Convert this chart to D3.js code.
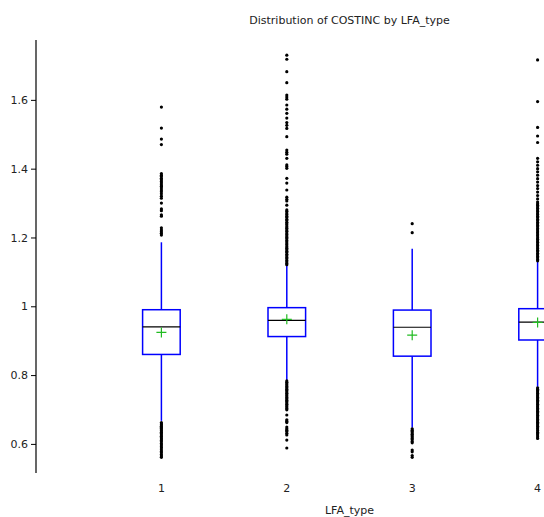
<!DOCTYPE html>
<html>
<head>
<meta charset="utf-8">
<script src="https://cdn.jsdelivr.net/npm/d3@7"></script>
<style>
  body { margin: 0; background: #fff; }
  text { font-family: "DejaVu Sans", Verdana, sans-serif; fill: #222; }
</style>
</head>
<body>
<svg id="chart" width="544" height="517"></svg>
<script>
const width = 544
const height = 517

// box statistics
const categories = [1, 2, 3, 4]
const q1 = [0.860, 0.912, 0.855, 0.902]
const median = [0.940, 0.959, 0.939, 0.954]
const q3 = [0.990, 0.996, 0.989, 0.993]
const mean = [0.924, 0.962, 0.916, 0.953]
const whiskerLow = [0.667, 0.786, 0.647, 0.766]
const whiskerHigh = [1.186, 1.118, 1.167, 1.129]

// outliers per category
const outliers1 = [1.579, 1.518, 1.486, 1.470, 1.386, 1.381, 1.377, 1.372, 1.368, 1.363, 1.358, 1.353,
  1.349, 1.344, 1.338, 1.333, 1.327, 1.320, 1.314, 1.300, 1.283, 1.278, 1.266, 1.262, 1.228, 1.222,
  1.217, 1.212, 1.207,
  0.662, 0.658, 0.655, 0.651, 0.648, 0.645, 0.641, 0.638, 0.634, 0.630, 0.626, 0.622, 0.618, 0.614,
  0.610, 0.606, 0.601, 0.597, 0.592, 0.588, 0.583, 0.578, 0.574, 0.569, 0.565, 0.561]
const outliers2 = [1.730, 1.718, 1.682, 1.650, 1.614, 1.608, 1.602, 1.585, 1.573, 1.561, 1.547, 1.534,
  1.526, 1.517, 1.493, 1.454, 1.448, 1.442, 1.430, 1.411, 1.406, 1.401, 1.372, 1.358, 1.338, 1.317,
  1.311, 1.306, 1.294, 1.280, 1.276, 1.271, 1.267, 1.262, 1.258, 1.253, 1.249, 1.244, 1.240, 1.236,
  1.231, 1.227, 1.222, 1.218, 1.213, 1.209, 1.204, 1.200, 1.196, 1.191, 1.187, 1.182, 1.178, 1.173,
  1.169, 1.164, 1.160, 1.156, 1.151, 1.147, 1.142, 1.138, 1.133, 1.129, 1.124, 1.121,
  0.783, 0.779, 0.775, 0.771, 0.767, 0.763, 0.759, 0.755, 0.751, 0.747, 0.743, 0.739, 0.735, 0.731,
  0.727, 0.723, 0.719, 0.715, 0.711, 0.707, 0.703, 0.699, 0.684, 0.670, 0.666, 0.662, 0.649, 0.644,
  0.640, 0.636, 0.631, 0.626, 0.611, 0.588]
const outliers3 = [1.240, 1.214,
  0.644, 0.640, 0.636, 0.632, 0.628, 0.624, 0.620, 0.616, 0.612, 0.607, 0.603, 0.582, 0.577, 0.566, 0.561]
const outliers4 = [1.716, 1.595, 1.520, 1.495, 1.476, 1.430, 1.420, 1.410, 1.400, 1.391, 1.381, 1.371,
  1.361, 1.351, 1.342, 1.332, 1.322, 1.312, 1.303, 1.298, 1.294, 1.289, 1.285, 1.280, 1.276, 1.271,
  1.267, 1.262, 1.258, 1.253, 1.249, 1.244, 1.240, 1.235, 1.231, 1.226, 1.222, 1.217, 1.213, 1.208,
  1.204, 1.199, 1.195, 1.190, 1.186, 1.181, 1.177, 1.172, 1.168, 1.163, 1.159, 1.154, 1.150, 1.145,
  1.141, 1.136, 1.132,
  0.763, 0.759, 0.755, 0.751, 0.747, 0.743, 0.739, 0.735, 0.731, 0.727, 0.723, 0.719, 0.715, 0.711,
  0.707, 0.703, 0.699, 0.695, 0.691, 0.687, 0.683, 0.679, 0.675, 0.671, 0.667, 0.663, 0.659, 0.655,
  0.651, 0.647, 0.643, 0.639, 0.634, 0.630, 0.626, 0.621, 0.616]
const outliers = [outliers1, outliers2, outliers3, outliers4]

const yTicks = [0.6, 0.8, 1, 1.2, 1.4, 1.6]

const svg = d3.select("#chart")

// plot area runs past the window on the right (category 5 slot is off screen)
const x = d3.scaleLinear().domain([0, 5]).range([36, 663])
const y = d3.scaleLinear().domain([0.5154, 1.774]).range([473, 40])
const halfBox = 18.8

// y axis
const yAxis = svg.append("g")
  .attr("transform", "translate(36,0)")
  .call(d3.axisLeft(y).tickValues(yTicks).tickSize(5).tickPadding(3).tickFormat(d3.format("")))
yAxis.select(".domain").attr("d", `M0,${y.range()[1]}V${y.range()[0]}`).attr("stroke", "#000").attr("stroke-width", 1.2)
yAxis.selectAll(".tick line").attr("stroke", "#000")
yAxis.selectAll(".tick text").attr("font-size", 11).attr("fill", "#222")

// x tick labels, no axis line
svg.append("g")
  .selectAll("text")
  .data(categories)
  .join("text")
  .attr("x", d => x(d))
  .attr("y", 492)
  .attr("text-anchor", "middle")
  .attr("font-size", 11)
  .text(d => d)

const box = svg.append("g")
  .selectAll("g")
  .data(categories)
  .join("g")

// whiskers
box.append("line")
  .attr("x1", d => x(d)).attr("x2", d => x(d))
  .attr("y1", (d, i) => y(whiskerHigh[i])).attr("y2", (d, i) => y(q3[i]))
  .attr("stroke", "#0000ff").attr("stroke-width", 1.5)
box.append("line")
  .attr("x1", d => x(d)).attr("x2", d => x(d))
  .attr("y1", (d, i) => y(q1[i])).attr("y2", (d, i) => y(whiskerLow[i]))
  .attr("stroke", "#0000ff").attr("stroke-width", 1.5)

// boxes
box.append("rect")
  .attr("x", d => x(d) - halfBox)
  .attr("width", halfBox * 2)
  .attr("y", (d, i) => y(q3[i]))
  .attr("height", (d, i) => y(q1[i]) - y(q3[i]))
  .attr("fill", "#fff")
  .attr("stroke", "#0000ff")
  .attr("stroke-width", 1.5)

// median
box.append("line")
  .attr("x1", d => x(d) - halfBox).attr("x2", d => x(d) + halfBox)
  .attr("y1", (d, i) => y(median[i])).attr("y2", (d, i) => y(median[i]))
  .attr("stroke", "#000").attr("stroke-width", 1.2)

// mean cross
box.append("path")
  .attr("d", (d, i) => `M${x(d) - 5},${y(mean[i])}h10M${x(d)},${y(mean[i]) - 5}v10`)
  .attr("stroke", "#22bb22").attr("stroke-width", 1.2).attr("fill", "none")

// outlier dots
box.selectAll("circle")
  .data((d, i) => outliers[i].map(v => ({ cat: d, v: v })))
  .join("circle")
  .attr("cx", d => x(d.cat))
  .attr("cy", d => y(d.v))
  .attr("r", 1.6)
  .attr("fill", "#000")

// title and axis label
svg.append("text")
  .attr("x", 349.5).attr("y", 24)
  .attr("text-anchor", "middle")
  .attr("font-size", 11)
  .text("Distribution of COSTINC by LFA_type")

svg.append("text")
  .attr("x", 349.5).attr("y", 514)
  .attr("text-anchor", "middle")
  .attr("font-size", 11)
  .text("LFA_type")
</script>
</body>
</html>
